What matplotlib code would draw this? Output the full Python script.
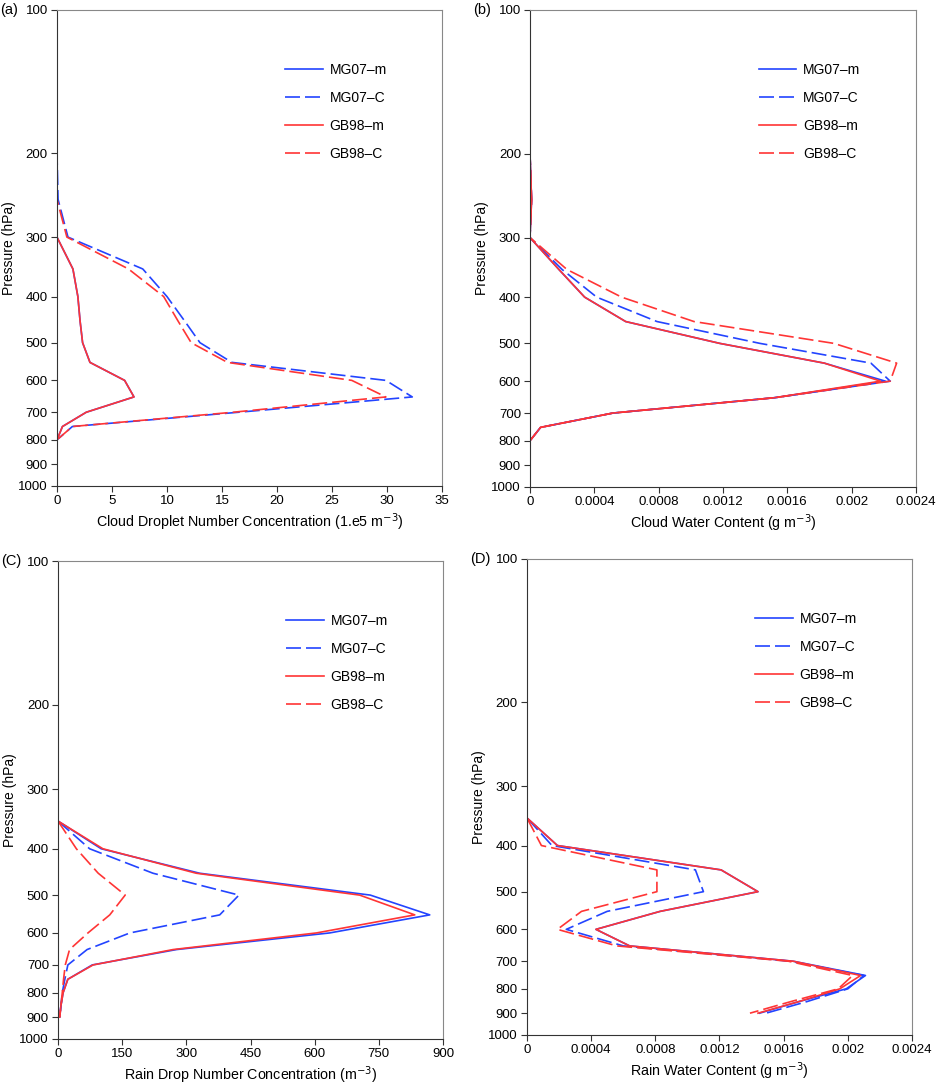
import numpy as np
import matplotlib
matplotlib.use("Agg")
import matplotlib.pyplot as plt

plt.rcParams['font.family'] = ['Liberation Sans', 'DejaVu Sans']

# pressure levels (hPa)
lev = [100, 150, 200, 250, 300, 350, 400, 450, 500, 550, 600, 650, 700, 750, 800, 850, 900]

# (a) cloud droplet number concentration (1.e5 m-3)
a_mg_m = [0, 0, 0, 0, 0, 1.45, 1.9, 2.1, 2.33, 3.0, 6.15, 7.0, 2.66, 0.5, 0, 0, 0]
a_mg_c = [0, 0, 0, 0.1, 1.0, 7.8, 10.0, 11.6, 13.0, 15.9, 29.9, 32.3, 16.5, 1.4, 0, 0, 0]
a_gb_m = [0, 0, 0, 0, 0, 1.45, 1.9, 2.1, 2.33, 3.0, 6.15, 7.0, 2.66, 0.5, 0, 0, 0]
a_gb_c = [0, 0, 0, 0, 0.9, 6.5, 9.7, 11.0, 12.2, 15.5, 26.8, 29.9, 16.0, 1.4, 0, 0, 0]

# (b) cloud water content (g m-3)
b_mg_m = [0, 0, 0, 0.00001, 0, 0.00018, 0.00034, 0.000595, 0.00118, 0.00183, 0.00221, 0.00152, 0.000515, 0.000066, 0, 0, 0]
b_mg_c = [0, 0, 0, 0.00001, 0, 0.0002, 0.000415, 0.00079, 0.00143, 0.00212, 0.00224, 0.00152, 0.000515, 0.000066, 0, 0, 0]
b_gb_m = [0, 0, 0, 0.00001, 0, 0.00018, 0.00034, 0.000595, 0.00118, 0.00183, 0.00218, 0.00152, 0.000515, 0.000066, 0, 0, 0]
b_gb_c = [0, 0, 0, 0.00001, 0, 0.00023, 0.00057, 0.00102, 0.00189, 0.00228, 0.00224, 0.00152, 0.000515, 0.000066, 0, 0, 0]

# (C) rain drop number concentration (m-3)
c_mg_m = [0, 0, 0, 0, 0, 0, 101, 331, 730, 869, 635, 277, 80, 23, 12, 7, 4]
c_mg_c = [0, 0, 0, 0, 0, 0, 74, 222, 423, 378, 168, 68, 23, 16, 10, 7, 4]
c_gb_m = [0, 0, 0, 0, 0, 0, 105, 323, 705, 834, 604, 269, 82, 23, 12, 7, 4]
c_gb_c = [0, 0, 0, 0, 0, 0, 43, 94, 157, 121, 70, 27, 17, 13, 10, 7, 4]

# (D) rain water content (g m-3)
d_mg_m = [0, 0, 0, 0, 0, 0, 0.00019, 0.00121, 0.00144, 0.00083, 0.00043, 0.00064, 0.00166, 0.00211, 0.00199, 0.0017, 0.00145]
d_mg_c = [0, 0, 0, 0, 0, 0, 0.000156, 0.00105, 0.0011, 0.0005, 0.000245, 0.0006, 0.00164, 0.0021, 0.002, 0.00175, 0.00149]
d_gb_m = [0, 0, 0, 0, 0, 0, 0.00019, 0.00121, 0.00144, 0.00083, 0.00043, 0.00064, 0.00166, 0.00208, 0.00195, 0.0017, 0.00144]
d_gb_c = [0, 0, 0, 0, 0, 0, 0.00009, 0.00081, 0.00081, 0.00034, 0.00019, 0.00056, 0.00163, 0.00203, 0.00194, 0.00165, 0.00139]

labels = ['MG07\u2013m', 'MG07\u2013C', 'GB98\u2013m', 'GB98\u2013C']
blue = '#2344ff'
red = '#ff3535'

panels = [
    ('(a)', [a_mg_m, a_mg_c, a_gb_m, a_gb_c], 'Cloud Droplet Number Concentration (1.e5 m$^{-3}$)',
     [0, 5, 10, 15, 20, 25, 30, 35], ['0', '5', '10', '15', '20', '25', '30', '35'],
     [0.0606, 0.5525, 0.4096, 0.4383]),
    ('(b)', [b_mg_m, b_mg_c, b_gb_m, b_gb_c], 'Cloud Water Content (g m$^{-3}$)',
     [0, 0.0004, 0.0008, 0.0012, 0.0016, 0.002, 0.0024], ['0', '0.0004', '0.0008', '0.0012', '0.0016', '0.002', '0.0024'],
     [0.5638, 0.5516, 0.4106, 0.4392]),
    ('(C)', [c_mg_m, c_mg_c, c_gb_m, c_gb_c], 'Rain Drop Number Concentration (m$^{-3}$)',
     [0, 150, 300, 450, 600, 750, 900], ['0', '150', '300', '450', '600', '750', '900'],
     [0.0617, 0.0433, 0.4096, 0.4401]),
    ('(D)', [d_mg_m, d_mg_c, d_gb_m, d_gb_c], 'Rain Water Content (g m$^{-3}$)',
     [0, 0.0004, 0.0008, 0.0012, 0.0016, 0.002, 0.0024], ['0', '0.0004', '0.0008', '0.0012', '0.0016', '0.002', '0.0024'],
     [0.5606, 0.0470, 0.4096, 0.4383]),
]

fig = plt.figure(figsize=(9.4, 10.86), dpi=100)

for tag, series, xlab, xt, xtl, pos in panels:
    ax = fig.add_axes(pos)
    dash = (0, (9, 3))
    styles = [(blue, '-'), (blue, dash), (red, '-'), (red, dash)]
    for vals, (col, ls), lab in zip(series, styles, labels):
        ax.plot(vals, lev, color=col, linestyle=ls, linewidth=1.2, label=lab)
    ax.set_yscale('log')
    ax.set_ylim(1000, 100)
    ax.set_xlim(xt[0], xt[-1])
    yt = [100, 200, 300, 400, 500, 600, 700, 800, 900, 1000]
    ax.set_yticks(yt)
    ax.set_yticklabels([str(v) for v in yt])
    ax.yaxis.set_minor_locator(matplotlib.ticker.NullLocator())
    ax.set_xticks(xt)
    ax.set_xticklabels(xtl)
    ax.tick_params(direction='out', length=4, width=0.8, labelsize=9.5, color='#333333', pad=2.5)
    for s in ['left', 'bottom']:
        ax.spines[s].set_color('#333333')
    for s in ['top', 'right']:
        ax.spines[s].set_color('#888888')
    ax.set_xlabel(xlab, fontsize=10.3, labelpad=3)
    ax.set_ylabel('Pressure (hPa)', fontsize=10, labelpad=2)
    ax.legend(loc='upper left', bbox_to_anchor=(0.56, 0.915), frameon=False, fontsize=10,
              handlelength=2.7, handletextpad=0.5, labelspacing=1.0)
    fig.text(pos[0] - 0.06, pos[1] + pos[3], tag, fontsize=10.5, va='center', ha='left')

fig.savefig('out.png', dpi=100)
